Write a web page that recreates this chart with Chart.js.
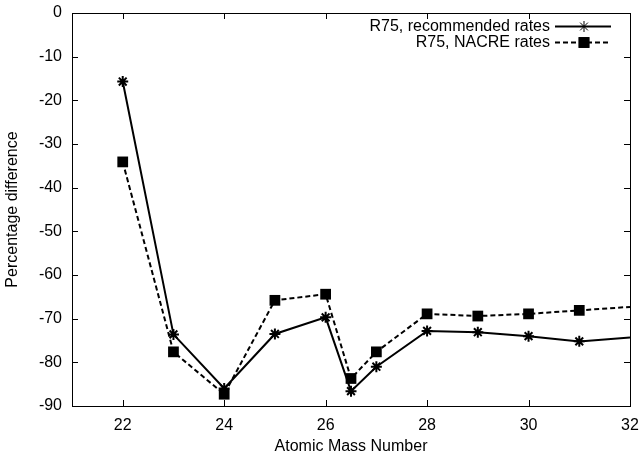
<!DOCTYPE html>
<html>
<head>
<meta charset="utf-8">
<script src="https://cdn.jsdelivr.net/npm/chart.js@4/dist/chart.umd.min.js"></script>
<style>
  html, body { margin: 0; padding: 0; background: #fff; }
  #wrap { width: 642px; height: 456px; }
</style>
</head>
<body>
<div id="wrap"><canvas id="myChart" width="642" height="456"></canvas></div>
<script>
var massNumbers = [22, 23, 24, 25, 26, 26.5, 27, 28, 29, 30, 31, 32];
var recommendedRates = [-15.7, -73.6, -86.0, -73.5, -69.7, -86.6, -81.0, -72.8, -73.1, -74.0, -75.2, -74.3];
var nacreRates = [-34.1, -77.6, -87.3, -65.8, -64.4, -83.7, -77.6, -68.9, -69.4, -68.9, -68.1, -67.3];
var xTicks = [22, 24, 26, 28, 30, 32];
var yTicks = [0, -10, -20, -30, -40, -50, -60, -70, -80, -90];

var fontFamily = "'Liberation Sans', Arial, Helvetica, sans-serif";

function toPoints(ys) {
  return massNumbers.map(function (x, i) { return { x: x, y: ys[i] }; });
}

// no symbol on the last point, it sits on the border
function radii(r) {
  return massNumbers.map(function (x, i) { return i === massNumbers.length - 1 ? 0 : r; });
}

// gnuplot style frame: box border, inward ticks on all four sides, key in the top right
var framePlugin = {
  id: "frame",
  afterDraw: function (chart) {
    var ctx = chart.ctx;
    var a = chart.chartArea;
    var xs = chart.scales.x, ys = chart.scales.y;
    ctx.save();
    ctx.strokeStyle = "#000";
    ctx.lineWidth = 1;
    ctx.strokeRect(Math.round(a.left) + 0.5, Math.round(a.top) + 0.5,
      Math.round(a.right - a.left), Math.round(a.bottom - a.top));
    ctx.beginPath();
    xTicks.forEach(function (v) {
      var px = Math.round(xs.getPixelForValue(v)) + 0.5;
      ctx.moveTo(px, a.bottom); ctx.lineTo(px, a.bottom - 6);
      ctx.moveTo(px, a.top); ctx.lineTo(px, a.top + 6);
    });
    yTicks.forEach(function (v) {
      var py = Math.round(ys.getPixelForValue(v)) + 0.5;
      ctx.moveTo(a.left, py); ctx.lineTo(a.left + 6, py);
      ctx.moveTo(a.right, py); ctx.lineTo(a.right - 6, py);
    });
    ctx.stroke();

    // key
    ctx.font = "16px " + fontFamily;
    ctx.textAlign = "right";
    ctx.textBaseline = "middle";
    ctx.fillStyle = "#000";
    chart.data.datasets.forEach(function (ds, i) {
      var y = 26.5 + i * 16;
      ctx.fillText(ds.label, 550, y);
      ctx.save();
      ctx.lineWidth = ds.borderWidth;
      ctx.setLineDash(ds.borderDash || []);
      ctx.beginPath();
      ctx.moveTo(555, y); ctx.lineTo(611, y);
      ctx.stroke();
      ctx.restore();
      Chart.helpers.drawPoint(ctx, {
        pointStyle: ds.pointStyle,
        radius: ds.pointRadius[0],
        borderWidth: ds.pointBorderWidth
      }, 584, y);
      if (ds.pointStyle === "rect") ctx.fill();
    });
    ctx.restore();
  }
};

var ctx = document.getElementById("myChart").getContext("2d");
var myChart = new Chart(ctx, {
  type: "scatter",
  data: {
    datasets: [
      {
        label: "R75, recommended rates",
        data: toPoints(recommendedRates),
        showLine: true,
        borderColor: "#000",
        backgroundColor: "#000",
        borderWidth: 2,
        pointStyle: "star",
        pointRadius: radii(5.5),
        pointBorderWidth: 2,
        pointBorderColor: "#000",
        tension: 0
      },
      {
        label: "R75, NACRE rates",
        data: toPoints(nacreRates),
        showLine: true,
        borderColor: "#000",
        backgroundColor: "#000",
        borderWidth: 2,
        borderDash: [5, 3],
        pointStyle: "rect",
        pointRadius: radii(7.6),
        pointBorderWidth: 0,
        pointBackgroundColor: "#000",
        tension: 0
      }
    ]
  },
  options: {
    responsive: false,
    animation: false,
    layout: { padding: { top: 13, right: 12, left: 0, bottom: 0 } },
    plugins: {
      legend: { display: false },
      tooltip: { enabled: false }
    },
    scales: {
      x: {
        type: "linear",
        min: 21,
        max: 32,
        afterBuildTicks: function (scale) {
          scale.ticks = xTicks.map(function (v) { return { value: v }; });
        },
        afterFit: function (scale) {
          scale.height = 50;
          scale.paddingLeft = 0;
          scale.paddingRight = 0;
        },
        grid: { display: false, drawTicks: false },
        border: { display: false },
        ticks: {
          padding: 10,
          color: "#000",
          font: { family: fontFamily, size: 16 },
          maxRotation: 0
        },
        title: {
          display: true,
          text: "Atomic Mass Number",
          color: "#000",
          font: { family: fontFamily, size: 16 },
          padding: { top: 0, bottom: 0 }
        }
      },
      y: {
        min: -90,
        max: 0,
        afterBuildTicks: function (scale) {
          scale.ticks = yTicks.map(function (v) { return { value: v }; });
        },
        afterFit: function (scale) {
          scale.width = 72;
          scale.paddingTop = 0;
          scale.paddingBottom = 0;
        },
        grid: { display: false, drawTicks: false },
        border: { display: false },
        ticks: {
          padding: 10,
          color: "#000",
          font: { family: fontFamily, size: 16 }
        },
        title: {
          display: true,
          text: "Percentage difference",
          color: "#000",
          font: { family: fontFamily, size: 16 },
          padding: { top: 3, bottom: 0 }
        }
      }
    }
  },
  plugins: [framePlugin]
});
</script>
</body>
</html>
